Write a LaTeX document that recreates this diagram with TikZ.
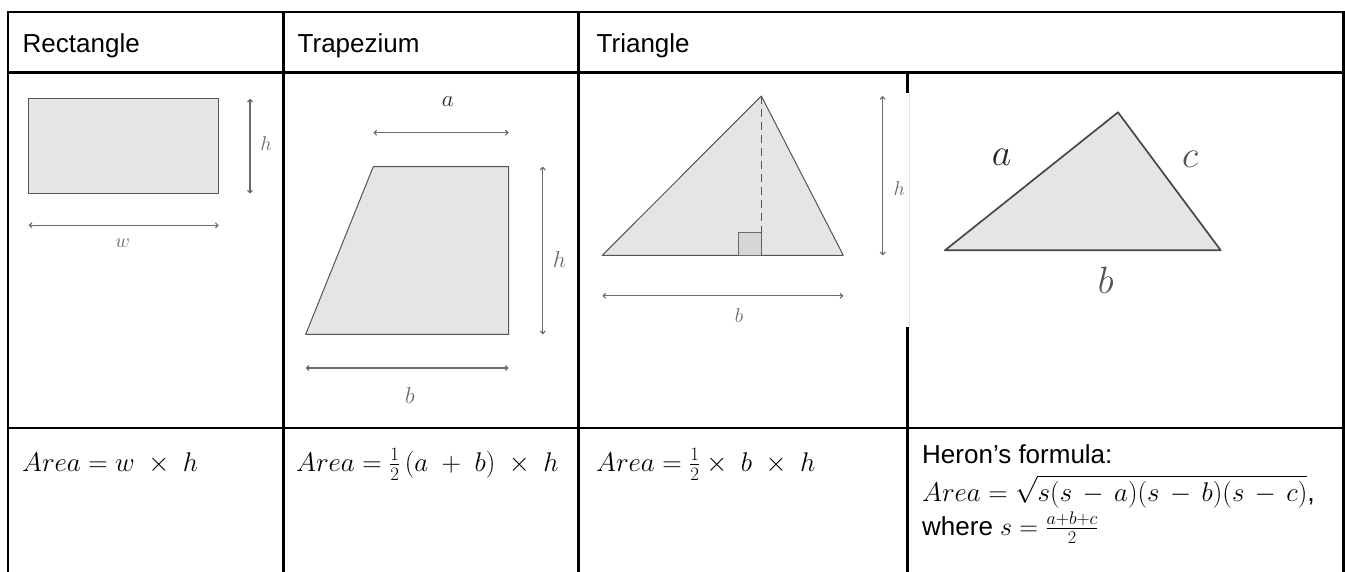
\RequirePackage{fix-cm}
\documentclass[tikz,border=0pt]{standalone}
\usepackage{amsmath}
\usepackage{fontspec}
\setmainfont{Liberation Sans}
\usetikzlibrary{arrows.meta}
\definecolor{shapegray}{HTML}{E5E5E5}
\definecolor{edgegray}{HTML}{555555}
\definecolor{dimgray}{HTML}{6A6A6A}
\definecolor{sqgray}{HTML}{D6D6D6}
\definecolor{ghost}{HTML}{E6E6E6}
\begin{document}
\begin{tikzpicture}[x=1pt,y=-1pt,
  grid/.style={line width=2.6pt, black, line cap=rect},
  shapefill/.style={fill=shapegray, draw=edgegray, line width=1pt, line join=round},
  dimline/.style={draw=dimgray, line width=1.1pt, {Straight Barb[length=2.5pt,width=5pt]}-{Straight Barb[length=2.5pt,width=5pt]}},
  lbl/.style={text=dimgray, font=\fontsize{20}{24}\selectfont, inner sep=0},
  biglbl/.style={text=edgegray, font=\fontsize{38}{44}\selectfont, inner sep=0},
  hdr/.style={anchor=base west, inner sep=0, font=\fontsize{26}{31}\selectfont},
  frm/.style={anchor=base west, inner sep=0, font=\fontsize{27}{32}\selectfont}]
\useasboundingbox (0,0) rectangle (1345,572);
\fill[white] (0,0) rectangle (1345,572);

% ---------- table grid ----------
\draw[grid] (8,12) -- (1343.5,12);
\draw[grid] (8,72.5) -- (1343.5,72.5);
\draw[grid] (8,428) -- (1343.5,428);
\draw[grid] (8,12) -- (8,572);
\draw[grid] (283.5,12) -- (283.5,572);
\draw[grid] (578.5,12) -- (578.5,572);
\draw[grid] (1343.5,12) -- (1343.5,572);
\draw[grid] (907.7,72.5) -- (907.7,92);
\draw[grid] (907.7,328) -- (907.7,572);
\draw[ghost, line width=1pt] (909.5,92) -- (909.5,328);

% ---------- headers ----------
\node[hdr] (hrect) at (22.5,53) {Rectangle};
\node[hdr] (htrap) at (297.5,53) {Trapezium};
\node[hdr] (htri) at (596.5,53) {Triangle};

% ---------- rectangle ----------
\draw[shapefill] (28.7,98.7) rectangle (218.7,193.7);
\coordinate (rh1) at (250,98.7);
\coordinate (rh2) at (250,193.7);
\coordinate (rw1) at (28.7,225.3);
\coordinate (rw2) at (218.7,225.3);
\draw[dimline] (rh1) -- (rh2);
\draw[dimline] (rw1) -- (rw2);
\node[lbl] (rhl) at (266,144) {$h$};
\node[lbl] (rwl) at (122.7,243) {$w$};

% ---------- trapezium ----------
\draw[shapefill] (373.3,166.7) -- (508.7,166.7) -- (508.7,334.3) -- (305.7,334.3) -- cycle;
\coordinate (ta1) at (373.3,132.7);
\coordinate (ta2) at (508.7,132.7);
\coordinate (th1) at (542.7,166.7);
\coordinate (th2) at (542.7,334.3);
\coordinate (tb1) at (305.7,368);
\coordinate (tb2) at (508.7,368);
\draw[dimline] (ta1) -- (ta2);
\draw[dimline] (th1) -- (th2);
\draw[dimline] (tb1) -- (tb2);
\node[lbl, text=black!85, font=\fontsize{23}{27}\selectfont] (tal) at (447.7,101.7) {$a$};
\node[lbl, font=\fontsize{23}{27}\selectfont] (thl) at (559.3,259.3) {$h$};
\node[lbl, font=\fontsize{23}{27}\selectfont] (tbl) at (410,395.5) {$b$};

% ---------- triangle ----------
\coordinate (apex) at (761.3,96);
\coordinate (foot) at (761.3,255.3);
\draw[shapefill] (602.3,255.3) -- (apex) -- (843.3,255.3) -- cycle;
\draw[fill=sqgray, draw=dimgray, line width=0.8pt] (738.3,232.7) rectangle (foot);
\draw[edgegray, line width=1pt, dash pattern=on 8pt off 5pt] (apex) -- (foot);
\coordinate (gh1) at (882.7,96);
\coordinate (gh2) at (882.7,255.3);
\coordinate (gb1) at (602.3,295.7);
\coordinate (gb2) at (843.3,295.7);
\draw[dimline] (gh1) -- (gh2);
\draw[dimline] (gb1) -- (gb2);
\node[lbl] (ghl) at (899.3,188.3) {$h$};
\node[lbl] (gbl) at (739,316) {$b$};

% ---------- heron triangle ----------
\draw[fill=shapegray, draw=black!72, line width=1.7pt, line join=round]
  (945,250.3) -- (1118,112.3) -- (1220.7,250.3) -- cycle;
\node[biglbl, text=black!85] (hal) at (1001.7,157) {$a$};
\node[biglbl] (hcl) at (1190,159) {$c$};
\node[biglbl] (hbl) at (1105.7,280) {$b$};

% ---------- formulas ----------
\node[frm] (frect) at (22,471) {$Area = w\;\times\;h$};
\node[frm] (ftrap) at (296,471) {$Area = \tfrac{1}{2}\,(a\;+\;b)\;\times\;h$};
\node[frm] (ftri) at (596,471) {$Area = \tfrac{1}{2}\times\;b\;\times\;h$};
\node[hdr] (fher1) at (922,463) {Heron’s formula:};
\node[frm] (fher2) at (922,501) {$Area = \sqrt{\smash[b]{s(s\,-\,a)(s\,-\,b)(s\,-\,c)}}$,};
\node[hdr] (fher3) at (922,535) {where $s = \frac{a+b+c}{2}$};
\end{tikzpicture}
\end{document}
